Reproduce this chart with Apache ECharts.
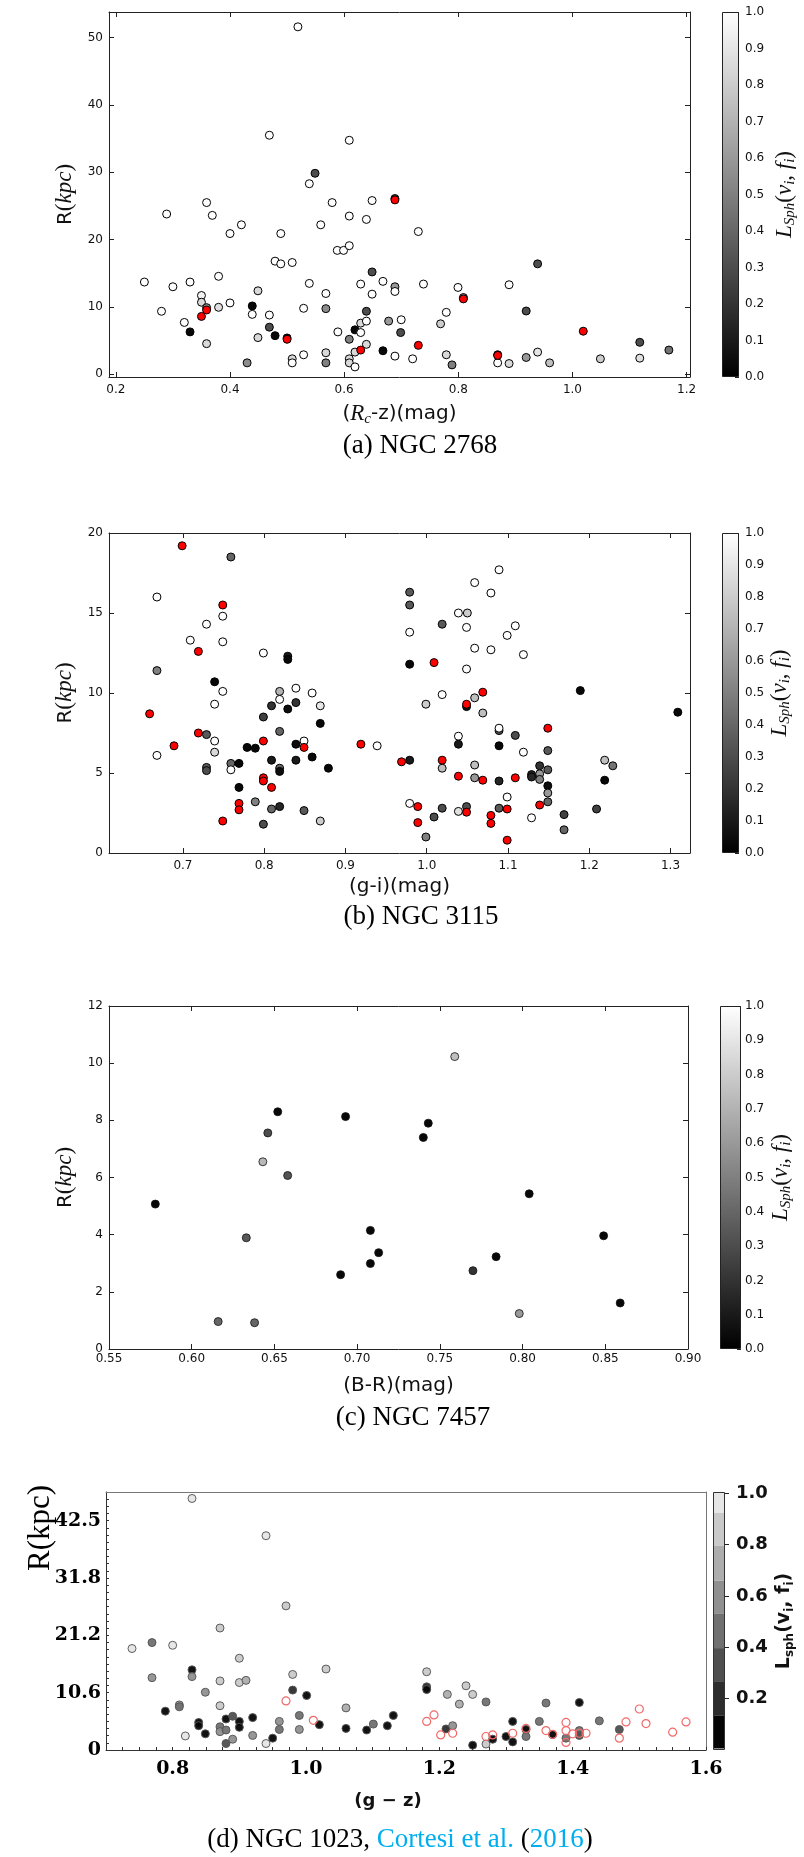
<!DOCTYPE html>
<html><head><meta charset="utf-8">
<script src="https://cdn.jsdelivr.net/npm/echarts@6/dist/echarts.min.js"></script>
<style>html,body{margin:0;padding:0;background:#fff}#c{width:804px;height:1857px}</style>
</head><body><div id="c"></div>
<script>
// ---------------- DATA ----------------
// Panel (a) NGC 2768 : (Rc-z) colour, R (kpc), L_Sph
const aX = [0.519,0.469,0.609,0.549,0.539,0.359,0.579,0.649,0.289,0.369,0.609,0.639,0.420,0.559,0.400,0.489,0.588,0.599,0.609,0.479,0.489,0.509,0.649,0.250,0.300,0.330,0.380,0.449,0.539,0.629,0.668,0.689,0.689,0.568,0.649,0.350,0.350,0.359,0.280,0.380,0.400,0.439,0.439,0.469,0.529,0.568,0.639,0.320,0.330,0.469,0.479,0.500,0.449,0.359,0.589,0.609,0.619,0.629,0.629,0.639,0.639,0.678,0.700,0.699,0.668,0.689,0.619,0.609,0.609,0.619,0.430,0.509,0.509,0.529,0.568,0.568,0.720,0.689,0.730,0.939,0.739,0.7995,0.889,0.809,0.919,0.779,0.769,0.779,0.789,0.869,0.869,0.889,0.919,0.939,0.960,1.049,1.118,1.118,1.169];
const aR = [51.6,35.5,34.75,29.85,28.3,25.5,25.5,25.8,23.8,23.6,23.5,23.0,22.2,22.2,20.9,20.9,18.4,18.4,19.1,16.8,16.4,16.6,15.2,13.7,13.0,13.7,14.55,12.4,13.5,13.4,13.8,13.0,12.3,12.0,11.9,11.7,10.7,9.9,9.36,9.95,10.6,10.15,8.9,8.8,9.8,9.75,9.36,7.7,6.3,7.0,5.74,5.4,5.45,4.55,6.3,5.2,6.6,7.6,6.2,7.9,4.45,7.9,8.1,6.2,3.5,2.7,3.3,2.3,1.7,1.1,1.7,2.3,1.7,2.9,3.2,1.7,2.3,26.1,21.2,16.4,13.4,12.9,13.3,11.4,9.4,9.2,7.5,2.9,1.4,2.9,1.7,1.6,2.5,3.3,1.7,2.3,4.75,2.4,3.6];
const aL = [1,1,1,0.3,1,1,1,1,1,1,1,1,1,1,1,1,1,1,1,1,1,1,0.3,1,1,1,1,0.85,1,1,1,0.6,1,1,1,0.95,0.85,0.55,1,0.88,1,0.03,1,1,1,0.55,0.3,1,0.03,0.3,0.03,0.03,0.85,0.85,1,0.5,0.03,0.85,1,1,0.85,0.6,1,0.3,0.03,1,0.85,0.85,0.85,1,0.55,0.85,1,1,0.85,0.5,1,0.3,1,0.3,1,1,1,0.6,0.3,1,0.8,0.85,0.5,0.03,1,0.85,0.6,0.9,0.75,0.8,0.3,0.88,0.45];
const aRedX = [0.689,0.359,0.350,0.500,0.629,0.809,0.730,0.869,1.019];
const aRedR = [25.9,9.55,8.6,5.2,3.6,11.2,4.3,2.8,6.4];

// Panel (b) NGC 3115 : (g-i) colour, R (kpc), L_Sph
const bX = [0.759,0.668,0.749,0.729,0.709,0.749,0.799,0.829,0.829,0.668,0.739,0.749,0.739,0.819,0.819,0.839,0.859,0.809,0.829,0.839,0.869,0.799,0.869,0.729,0.739,0.739,0.668,0.729,0.729,0.759,0.759,0.769,0.779,0.789,0.819,0.839,0.849,0.859,0.809,0.839,0.819,0.819,0.879,0.769,0.789,0.819,0.809,0.849,0.799,0.869,0.939,0.979,0.979,0.979,0.979,1.019,1.039,1.050,1.049,1.059,1.059,1.049,1.019,0.999,1.059,1.049,1.039,1.039,0.979,1.019,1.059,1.059,0.979,1.009,1.019,0.999,1.039,1.049,1.089,1.079,1.109,1.099,1.079,1.119,1.189,1.069,1.309,1.089,1.089,1.109,1.089,1.119,1.149,1.089,1.139,1.129,1.129,1.139,1.139,1.149,1.149,1.149,1.149,1.099,1.089,1.129,1.169,1.169,1.209,1.219,1.219,1.229];
const bR = [18.5,16.0,14.8,14.3,13.3,13.2,12.5,12.3,12.1,11.4,10.7,10.1,9.3,10.1,9.6,10.3,10.0,9.2,9.0,9.4,9.2,8.5,8.1,7.4,7.0,6.3,6.1,5.35,5.15,5.6,5.2,5.6,6.6,6.55,7.6,6.8,7.0,6.0,5.8,5.8,5.3,5.1,5.3,4.1,3.2,2.9,2.75,2.65,1.8,2.0,6.7,16.3,15.5,13.8,11.8,14.3,15.0,15.0,14.1,16.9,12.8,11.5,9.9,9.3,9.7,9.15,7.3,6.8,5.8,5.3,5.5,4.7,3.1,2.25,2.8,1.0,2.6,2.9,17.7,16.25,14.2,13.6,12.7,12.4,10.15,8.75,8.8,7.65,7.8,7.35,6.7,6.3,6.4,4.5,5.45,4.9,4.75,4.95,4.6,5.2,4.2,3.75,3.2,3.5,2.8,2.2,2.4,1.45,2.75,4.55,5.8,5.45];
const bL = [0.4,1,1,1,1,1,1,0.1,0.03,0.5,0.03,1,1,0.7,1,1,1,0.2,0.05,0.2,0.9,0.25,0.03,0.35,1,0.85,1,0.35,0.3,0.4,1,0.03,0.03,0.03,0.4,0.05,1,0.03,0.1,0.1,0.4,0.05,0.03,0.03,0.5,0.15,0.4,0.35,0.3,0.8,1,0.35,0.35,1,0.03,0.35,1,0.8,1,1,1,1,1,0.8,0.75,0.05,1,0.1,0.1,0.75,0.75,0.6,1,0.3,0.3,0.5,0.88,0.3,1,1,1,1,1,1,0.03,0.75,0.03,0.3,1,0.3,0.03,1,0.35,0.15,0.2,0.15,0.15,0.6,0.5,0.35,0.05,0.6,0.4,1,0.35,1,0.25,0.4,0.25,0.03,0.75,0.45];
const bRedX = [0.699,0.749,0.719,0.659,0.689,0.719,0.799,0.849,0.799,0.799,0.809,0.769,0.769,0.749,0.919,1.009,1.049,0.969,1.019,1.039,0.989,0.989,1.049,1.069,1.149,1.069,1.109,1.139,1.099,1.079,1.079,1.099];
const bRedR = [19.2,15.5,12.6,8.7,6.7,7.5,7.0,6.6,4.7,4.5,4.1,3.1,2.7,2.0,6.8,11.9,9.3,5.7,5.8,4.8,2.9,1.9,2.55,10.05,7.8,4.55,4.7,3.0,2.75,2.35,1.85,0.8];

// Panel (c) NGC 7457 : (B-R) colour, R (kpc), L_Sph
const cX = [0.578,0.616,0.633,0.638,0.643,0.646,0.652,0.658,0.690,0.693,0.708,0.708,0.713,0.740,0.743,0.759,0.770,0.784,0.798,0.804,0.849,0.859];
const cR = [5.07,0.96,3.89,0.92,6.55,7.56,8.30,6.07,2.60,8.13,4.15,2.99,3.37,7.40,7.90,10.23,2.74,3.23,1.24,5.43,3.96,1.61];
const cL = [0.03,0.4,0.35,0.4,0.72,0.3,0.03,0.33,0.03,0.03,0.03,0.03,0.03,0.03,0.03,0.75,0.2,0.03,0.6,0.03,0.03,0.03];

// Panel (d) NGC 1023 (Cortesi et al. 2016) : (g-z) colour, R (kpc), L_sph
const dX = [0.829,0.940,0.970,0.871,0.739,0.769,0.800,0.900,0.769,0.829,0.829,0.871,0.900,0.910,0.980,1.030,0.849,0.980,1.001,0.789,0.810,0.810,0.871,1.060,0.839,0.839,0.849,0.871,0.871,0.880,0.880,0.890,0.900,0.900,0.920,0.920,0.880,0.890,0.819,0.940,0.950,0.960,0.960,0.990,0.990,1.020,1.060,1.091,1.101,1.122,1.131,1.181,1.181,1.181,1.212,1.210,1.220,1.240,1.250,1.230,1.270,1.250,1.270,1.280,1.300,1.310,1.310,1.330,1.330,1.350,1.360,1.370,1.390,1.410,1.410,1.410,1.440,1.470];
const dR = [46.6,39.7,26.7,22.6,18.8,19.9,19.4,17.0,13.4,14.85,13.6,12.8,12.5,12.9,14.0,15.0,10.7,11.1,10.1,7.2,8.35,8.0,8.2,7.8,5.1,4.5,3.0,4.3,3.4,3.7,5.75,6.25,5.3,4.2,6.0,2.7,1.2,2.0,2.6,1.2,2.2,5.3,3.8,6.4,3.8,4.7,4.0,3.7,4.8,4.5,6.4,14.5,11.7,11.2,10.3,3.9,4.5,11.9,10.3,8.5,8.9,0.9,1.1,2.0,2.5,5.3,1.5,3.8,2.5,5.3,8.7,2.85,2.2,8.8,3.6,2.7,5.4,3.8];
const dL = [0.95,0.95,0.85,0.85,0.95,0.45,0.95,0.85,0.55,0.1,0.6,0.85,0.85,0.7,0.85,0.8,0.6,0.2,0.05,0.1,0.6,0.45,0.85,0.7,0.05,0.05,0.05,0.45,0.55,0.4,0.05,0.3,0.05,0.05,0.05,0.55,0.3,0.6,0.95,0.95,0.1,0.55,0.4,0.5,0.6,0.05,0.05,0.05,0.4,0.05,0.05,0.85,0.2,0.1,0.7,0.2,0.55,0.85,0.85,0.7,0.5,0.05,0.85,0.05,0.05,0.1,0.05,0.1,0.4,0.45,0.45,0.05,0.45,0.05,0.4,0.3,0.45,0.3];
const dRedX = [0.970,1.011,1.181,1.192,1.202,1.220,1.270,1.280,1.310,1.330,1.360,1.370,1.390,1.390,1.390,1.400,1.410,1.420,1.470,1.480,1.500,1.510,1.550,1.570];
const dRedR = [9.1,5.5,5.3,6.5,2.8,3.1,2.5,2.8,3.1,4.0,3.6,2.9,5.1,3.6,1.4,3.0,3.1,3.1,2.2,5.2,7.6,4.9,3.3,5.2];

// Tick values / labels
const aXTicks = [0.2,0.4,0.6,0.8,1.0,1.2];
const aYTicks = [0,10,20,30,40,50];
const bXTicks = [0.7,0.8,0.9,1.0,1.1,1.2,1.3];
const bYTicks = [0,5,10,15,20];
const cXTicks = [0.55,0.60,0.65,0.70,0.75,0.80,0.85,0.90];
const cYTicks = [0,2,4,6,8,10,12];
const dXTicks = [0.8,1.0,1.2,1.4,1.6];
const dYTickVals = [0,10.625,21.25,31.875,42.5];
const dYTickLabels = ['0','10.6','21.2','31.8','42.5'];
const cbTicks = [0,0.1,0.2,0.3,0.4,0.5,0.6,0.7,0.8,0.9,1.0];
const dCbTicks = [0.2,0.4,0.6,0.8,1.0];
// discrete colour bar of panel (d)
const dBandEdges = [0.006,0.133,0.265,0.397,0.530,0.659,0.795,0.925,1.005];
const dBandColors = ['#050505','#2d2d2d','#4f4f4f','#707070','#909090','#adadad','#c9c9c9','#e6e6e6'];

// ---------------- HELPERS ----------------
function zip(xs, ys, ls) { return xs.map((x, i) => ls ? [x, ys[i], ls[i]] : [x, ys[i]]); }
function gray(L) { const v = Math.round(Math.max(0, Math.min(1, L)) * 255); return 'rgb(' + v + ',' + v + ',' + v + ')'; }
function dGray(L) {
  for (let i = 0; i < dBandColors.length; i++) { if (L < dBandEdges[i + 1]) return dBandColors[i]; }
  return dBandColors[dBandColors.length - 1];
}
function steps(a, b, s) { const r = []; for (let k = 0; a + k * s <= b + 1e-9; k++) r.push(+(a + k * s).toFixed(6)); return r; }

const SANS = 'DejaVu Sans', SERIF = 'Liberation Serif';
const AX = '#222';
const grids = [], xAxes = [], yAxes = [], series = [];
const tickFont = { fontFamily: SANS, fontSize: 12, color: '#111' };

function addPanel(p) {
  const gi = grids.length;
  grids.push({ left: p.left, top: p.top, width: p.w, height: p.h, containLabel: false });
  const xi = xAxes.length, yi = yAxes.length;
  const lc = p.lineColor || AX;
  xAxes.push({ gridIndex: gi, type: 'value', min: p.xmin, max: p.xmax, position: 'bottom',
    axisLine: { show: true, onZero: false, lineStyle: { color: lc, width: 1 } },
    axisTick: { show: true, inside: true, length: p.tickLen || 5, customValues: p.xTickVals || p.xticks, lineStyle: { color: lc } },
    axisLabel: Object.assign({ customValues: p.xticks, formatter: p.xfmt, margin: p.xMargin || 7 }, p.font || tickFont),
    splitLine: { show: false },
    name: p.xname, nameLocation: 'middle', nameGap: p.xgap, nameTextStyle: p.xnameStyle });
  xAxes.push({ gridIndex: gi, type: 'value', min: p.xmin, max: p.xmax, position: 'top',
    axisLine: { show: true, onZero: false, lineStyle: { color: p.frameColor || lc, width: 1 } },
    axisTick: { show: !p.noFrameTicks, inside: true, length: p.tickLen || 5, customValues: p.xticks, lineStyle: { color: lc } },
    axisLabel: { show: false }, splitLine: { show: false } });
  yAxes.push({ gridIndex: gi, type: 'value', min: p.ymin, max: p.ymax, position: 'left',
    axisLine: { show: true, onZero: false, lineStyle: { color: lc, width: 1 } },
    axisTick: { show: true, inside: true, length: p.tickLen || 5, customValues: p.yTickVals || p.yticks, lineStyle: { color: lc } },
    axisLabel: Object.assign({ customValues: p.yticks, formatter: p.yfmt, margin: p.yMargin || 6 }, p.font || tickFont),
    splitLine: { show: false },
    name: p.yname, nameLocation: 'middle', nameRotate: 90, nameGap: p.ygap, nameTextStyle: p.ynameStyle });
  yAxes.push({ gridIndex: gi, type: 'value', min: p.ymin, max: p.ymax, position: 'right',
    axisLine: { show: true, onZero: false, lineStyle: { color: p.frameColor || lc, width: 1 } },
    axisTick: { show: !p.noFrameTicks, inside: true, length: p.tickLen || 5, customValues: p.yticks, lineStyle: { color: lc } },
    axisLabel: { show: false }, splitLine: { show: false } });
  return { x: xi, y: yi };
}

function addColorbar(c) {
  const gi = grids.length;
  grids.push({ left: c.left, top: c.top, width: c.w, height: c.h });
  const xi = xAxes.length, yi = yAxes.length;
  xAxes.push({ gridIndex: gi, type: 'category', data: ['cb'], show: false });
  yAxes.push({ gridIndex: gi, type: 'value', min: c.min, max: c.max, position: 'right',
    axisLine: { show: false },
    axisTick: { show: true, inside: c.inside, length: c.tickLen || 4, customValues: c.ticks, lineStyle: { color: AX } },
    axisLabel: Object.assign({ customValues: c.ticks, formatter: v => v.toFixed(1), margin: c.margin }, c.font || tickFont),
    splitLine: { show: false },
    name: c.name, nameLocation: 'middle', nameRotate: 90, nameGap: c.gap, nameTextStyle: c.nameStyle });
  return { x: xi, y: yi };
}

// Axis-name rich styles
const mathRich = {
  r: { fontFamily: SANS, fontSize: 20, color: '#111', lineHeight: 26, verticalAlign: 'middle' },
  m: { fontFamily: SERIF, fontStyle: 'italic', fontSize: 23, color: '#111', lineHeight: 26, verticalAlign: 'middle' },
  p: { fontFamily: SERIF, fontSize: 23, color: '#111', lineHeight: 26, verticalAlign: 'middle' },
  s: { fontFamily: SERIF, fontStyle: 'italic', fontSize: 15, color: '#111', lineHeight: 15, verticalAlign: 'bottom' }
};
const yName = '{r|R}{p|(}{m|kpc}{p|)}';
const cbName = '{m|L}{s|Sph}{p|(}{m|v}{s|i}{p|, }{m|f}{s|i}{p|)}';

// ---------------- PANEL (a) ----------------
const pa = addPanel({ left: 109, top: 12, w: 581, h: 365, xmin: 0.188, xmax: 1.206, ymin: -0.4, ymax: 53.8,
  xticks: aXTicks, yticks: aYTicks, xfmt: v => v.toFixed(1), yfmt: v => String(v),
  xname: '{r|(}{m|R}{s|c}{r|-z)(mag)}', xgap: 24, xnameStyle: { rich: mathRich },
  yname: yName, ygap: 25, ynameStyle: { rich: mathRich } });
series.push({ type: 'scatter', xAxisIndex: pa.x, yAxisIndex: pa.y, data: zip(aX, aR, aL), symbolSize: 8,
  itemStyle: { color: p => gray(p.data[2]), borderColor: '#000', borderWidth: 1, opacity: 1 }, z: 3 });
series.push({ type: 'scatter', xAxisIndex: pa.x, yAxisIndex: pa.y, data: zip(aRedX, aRedR), symbolSize: 8,
  itemStyle: { color: '#ff0000', borderColor: '#000', borderWidth: 1, opacity: 1 }, z: 4 });
const ca = addColorbar({ left: 722, top: 12, w: 17, h: 365, min: 0, max: 1, ticks: cbTicks, inside: true, margin: 6,
  name: cbName, gap: 33, nameStyle: { rich: mathRich } });

// ---------------- PANEL (b) ----------------
const pb = addPanel({ left: 109, top: 533, w: 581, h: 320, xmin: 0.609, xmax: 1.324, ymin: 0, ymax: 20,
  xticks: bXTicks, yticks: bYTicks, xfmt: v => v.toFixed(1), yfmt: v => String(v),
  xname: '{r|(g-i)(mag)}', xgap: 21, xnameStyle: { rich: mathRich },
  yname: yName, ygap: 25, ynameStyle: { rich: mathRich } });
series.push({ type: 'scatter', xAxisIndex: pb.x, yAxisIndex: pb.y, data: zip(bX, bR, bL), symbolSize: 8,
  itemStyle: { color: p => gray(p.data[2]), borderColor: '#000', borderWidth: 1, opacity: 1 }, z: 3 });
series.push({ type: 'scatter', xAxisIndex: pb.x, yAxisIndex: pb.y, data: zip(bRedX, bRedR), symbolSize: 8,
  itemStyle: { color: '#ff0000', borderColor: '#000', borderWidth: 1, opacity: 1 }, z: 4 });
const cb = addColorbar({ left: 722, top: 533, w: 17, h: 320, min: 0, max: 1, ticks: cbTicks, inside: true, margin: 6,
  name: cbName, gap: 27, nameStyle: { rich: mathRich } });

// ---------------- PANEL (c) ----------------
const pc = addPanel({ left: 109, top: 1006, w: 579, h: 343, xmin: 0.55, xmax: 0.90, ymin: 0, ymax: 12,
  xticks: cXTicks, yticks: cYTicks, xfmt: v => v.toFixed(2), yfmt: v => String(v), xMargin: 4,
  xname: '{r|(B-R)(mag)}', xgap: 24, xnameStyle: { rich: mathRich },
  yname: yName, ygap: 25, ynameStyle: { rich: mathRich } });
series.push({ type: 'scatter', xAxisIndex: pc.x, yAxisIndex: pc.y, data: zip(cX, cR, cL), symbolSize: 8,
  itemStyle: { color: p => gray(p.data[2]), borderColor: '#111', borderWidth: 0.8, opacity: 1 }, z: 3 });
const cc = addColorbar({ left: 720, top: 1006, w: 21, h: 343, min: 0, max: 1, ticks: cbTicks, inside: true, margin: 4,
  name: cbName, gap: 27, nameStyle: { rich: mathRich } });

// ---------------- PANEL (d) ----------------
const dFont = { fontFamily: 'DejaVu Serif', fontWeight: 'bold', fontSize: 19, color: '#000' };
const pd = addPanel({ left: 106, top: 1492, w: 600, h: 258, xmin: 0.7, xmax: 1.6, ymin: 0, ymax: 47.8,
  xticks: dXTicks, yticks: dYTickVals, xTickVals: steps(0.7, 1.6, 0.025), yTickVals: steps(0, 47.8, 10.625 / 8),
  xfmt: v => v.toFixed(1), yfmt: v => dYTickLabels[Math.round(v / 10.625)],
  font: dFont, tickLen: 3, xMargin: 10, yMargin: 5, lineColor: '#333', frameColor: '#777', noFrameTicks: true,
  xname: '(g \u2212 z)', xgap: 42, xnameStyle: { fontFamily: SANS, fontWeight: 'bold', fontSize: 18, color: '#111', padding: [0, 36, 0, 0] },
  yname: '', ygap: 50 });
series.push({ type: 'scatter', xAxisIndex: pd.x, yAxisIndex: pd.y, data: zip(dX, dR, dL), symbolSize: 8,
  itemStyle: { color: p => dGray(p.data[2]), borderColor: '#555', borderWidth: 1, opacity: 0.95 }, z: 3 });
series.push({ type: 'scatter', xAxisIndex: pd.x, yAxisIndex: pd.y, data: zip(dRedX, dRedR), symbolSize: 8,
  itemStyle: { color: 'rgba(255,255,255,0)', borderColor: '#f06a6a', borderWidth: 1.2, opacity: 1 }, z: 4 });
const cd = addColorbar({ left: 713, top: 1492, w: 12, h: 258, min: 0, max: 1.005, ticks: dCbTicks, inside: false, tickLen: 4, margin: 11,
  font: { fontFamily: SANS, fontWeight: 'bold', fontSize: 18, color: '#111' },
  name: 'L{s|sph}(v{s|i}, f{s|i})', gap: 58,
  nameStyle: { fontFamily: SANS, fontWeight: 'bold', fontSize: 19, color: '#111', lineHeight: 24, verticalAlign: 'middle',
    rich: { s: { fontFamily: SANS, fontWeight: 'bold', fontSize: 12, lineHeight: 12, verticalAlign: 'bottom', color: '#111' } } } });

// ---------------- COLOUR BARS ----------------
function gradBar(ax) {
  series.push({ type: 'bar', xAxisIndex: ax.x, yAxisIndex: ax.y, data: [1], barWidth: '100%', barGap: '-100%', silent: true,
    itemStyle: { color: new echarts.graphic.LinearGradient(0, 0, 0, 1, [{ offset: 0, color: '#ffffff' }, { offset: 1, color: '#000000' }]),
      borderColor: '#222', borderWidth: 1 } });
}
gradBar(ca); gradBar(cb); gradBar(cc);
// discrete (banded) colour bar of (d), stacked band by band
series.push({ type: 'bar', xAxisIndex: cd.x, yAxisIndex: cd.y, stack: 'dcb', data: [dBandEdges[0]], barWidth: '100%', barGap: '-100%', silent: true,
  itemStyle: { color: 'rgba(0,0,0,0)' } });
for (let i = 0; i < dBandColors.length; i++) {
  series.push({ type: 'bar', xAxisIndex: cd.x, yAxisIndex: cd.y, stack: 'dcb', data: [+(dBandEdges[i + 1] - dBandEdges[i]).toFixed(4)],
    barWidth: '100%', barGap: '-100%', silent: true, itemStyle: { color: dBandColors[i] } });
}
series.push({ type: 'bar', xAxisIndex: cd.x, yAxisIndex: cd.y, data: [dBandEdges[dBandEdges.length - 1]], barWidth: '100%', barGap: '-100%', silent: true, z: 5,
  itemStyle: { color: 'rgba(0,0,0,0)', borderColor: '#333', borderWidth: 1 } });

// ---------------- CAPTIONS ----------------
const capFont = '27px "Liberation Serif"';
const graphic = [
  { type: 'text', x: 420, y: 446, style: { text: '(a) NGC 2768', font: capFont, fill: '#000', align: 'center', verticalAlign: 'middle' } },
  { type: 'text', x: 421, y: 917, style: { text: '(b) NGC 3115', font: capFont, fill: '#000', align: 'center', verticalAlign: 'middle' } },
  { type: 'text', x: 413, y: 1418, style: { text: '(c) NGC 7457', font: capFont, fill: '#000', align: 'center', verticalAlign: 'middle' } },
  { type: 'text', x: 400, y: 1840, style: { text: '{k|(d) NGC 1023, }{b|Cortesi et al.}{k| (}{b|2016}{k|)}', align: 'center', verticalAlign: 'middle',
      rich: { k: { font: capFont, fill: '#000' }, b: { font: capFont, fill: '#00aeef' } } } },
  { type: 'text', x: 41, y: 1528, rotation: Math.PI / 2, style: { text: 'R(kpc)', font: '31px "Liberation Serif"', fill: '#000', align: 'center', verticalAlign: 'middle' } }
];

const chart = echarts.init(document.getElementById('c'), null, { renderer: 'canvas' });
chart.setOption({ animation: false, backgroundColor: '#fff', grid: grids, xAxis: xAxes, yAxis: yAxes, series: series, graphic: graphic });
</script></body></html>
